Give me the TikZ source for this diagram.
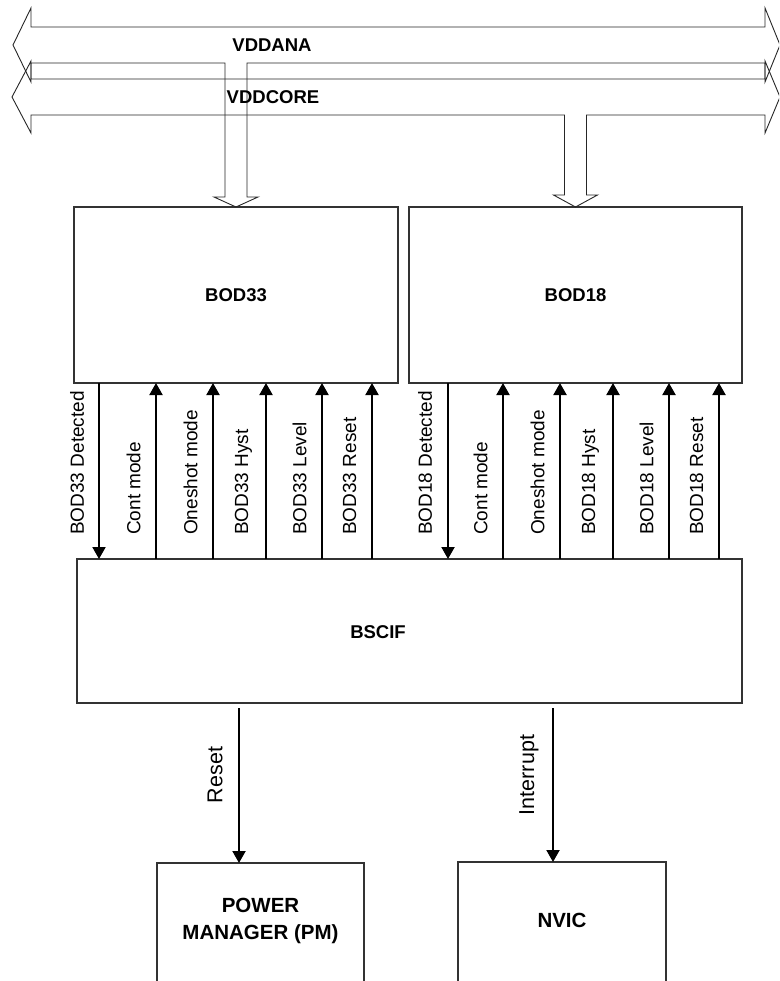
\documentclass[tikz,border=0pt]{standalone}
\usepackage{fontspec}
\setmainfont{Liberation Sans}
\usetikzlibrary{arrows.meta, positioning}

\begin{document}
\begin{tikzpicture}[x=1pt, y=-1pt,
   block/.style={draw=black!80, line width=1.2pt, inner sep=0pt, outer sep=0pt},
   bus/.style={draw=black!85, line width=0.9pt, line join=miter},
   sig/.style={-{Triangle[length=12pt, width=13pt]}, line width=2pt},
   siglbl/.style={rotate=90, anchor=west, inner sep=0pt, font=\fontsize{19}{22}\selectfont},
   outlbl/.style={rotate=90, inner sep=0pt, font=\fontsize{21.5}{24}\selectfont},
   boldlbl/.style={inner sep=0pt, font=\fontsize{18.5}{27}\selectfont\bfseries, align=center},
   destlbl/.style={inner sep=0pt, font=\fontsize{20.5}{27}\selectfont\bfseries, align=center}]

 \useasboundingbox (0,0) rectangle (779,981);
 \clip (0,0) rectangle (779,981);

 \node[block, minimum width=324pt, minimum height=176pt, boldlbl] (bod33) at (236,295) {BOD33};
 \node[block, minimum width=333pt, minimum height=176pt, boldlbl, right=11pt of bod33] (bod18) {BOD18};
 \node[block, minimum width=665pt, minimum height=144pt] (bscif) at (409.5,631) {};
 \node[boldlbl] (bscif-lbl) at (378,632) {BSCIF};
 \node[block, minimum width=207pt, minimum height=140pt] (pm) at (260.5,933) {};
 \node[destlbl] (pm-lbl) at (260.5,921) {POWER\\MANAGER (PM)};
 \node[block, minimum width=208pt, minimum height=140pt] (nvic) at (562,932) {};
 \node[destlbl] (nvic-lbl) at (562,920) {NVIC};

 % supply buses
 \draw[bus] (13,45) -- (31,8) -- (31,27) -- (765,27) -- (765,8) -- (780,45) -- (765,82)
   -- (765,63) -- (247,63) -- (247,197) -- ++(11,0) -- (bod33.north) -- ++(-22,-10)
   -- ++(11,0) -- (225,63) -- (31,63) -- (31,82) -- cycle;
 \draw[bus] (12,97) -- (31,61) -- (31,79) -- (765,79) -- (765,61) -- (780,97) -- (765,133)
   -- (765,115) -- (586.5,115) -- (586.5,195) -- ++(11,0) -- (bod18.north) -- ++(-22,-12)
   -- ++(11,0) -- (564.5,115) -- (31,115) -- (31,133) -- cycle;
 \node[boldlbl] (vddana) at (272,45) {VDDANA};
 \node[boldlbl] (vddcore) at (273,97) {VDDCORE};

 \draw[sig] (bod33.south -| 99,0) -- (bscif.north -| 99,0);
 \node[siglbl] (lbl-99) at (77,535) {BOD33 Detected};
 \foreach \x/\txt in {156/Cont mode, 213/Oneshot mode, 266/BOD33 Hyst, 322/BOD33 Level, 372/BOD33 Reset} {
   \draw[sig] (bscif.north -| \x,0) -- (bod33.south -| \x,0);
   \node[siglbl] (lbl-\x) at (\x-22.5,535) {\txt};
 }

 \draw[sig] (bod18.south -| 448,0) -- (bscif.north -| 448,0);
 \node[siglbl] (lbl-448) at (425,535) {BOD18 Detected};
 \foreach \x/\txt in {503/Cont mode, 560/Oneshot mode, 613/BOD18 Hyst, 669/BOD18 Level, 719/BOD18 Reset} {
   \draw[sig] (bscif.north -| \x,0) -- (bod18.south -| \x,0);
   \node[siglbl] (lbl-\x) at (\x-22.5,535) {\txt};
 }

 \draw[sig] ([yshift=-5pt]bscif.south -| 239,0) -- (pm.north -| 239,0);
 \node[outlbl] (rst-lbl) at (215,775) {Reset};
 \draw[sig] ([yshift=-5pt]bscif.south -| 553,0) -- (nvic.north -| 553,0);
 \node[outlbl] (irq-lbl) at (529,775) {Interrupt};
\end{tikzpicture}
\end{document}
